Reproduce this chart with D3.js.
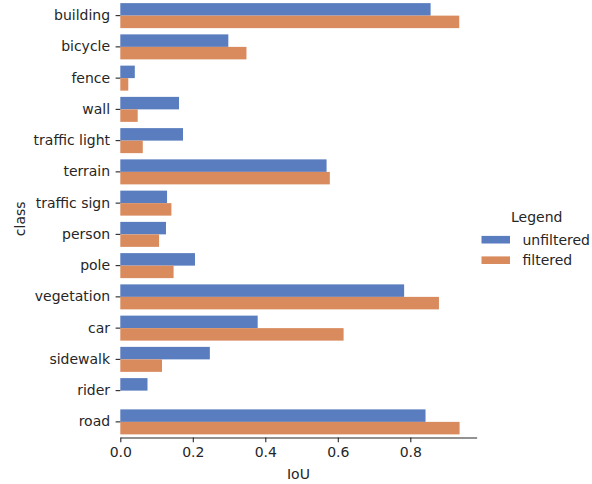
<!DOCTYPE html>
<html>
<head>
<meta charset="utf-8">
<script src="https://cdn.jsdelivr.net/npm/d3@7"></script>
<style>
  html, body { margin: 0; padding: 0; background: #fff; }
  svg { display: block; font-family: "DejaVu Sans", sans-serif; }
</style>
</head>
<body>
<svg id="chart" width="592" height="484"></svg>
<script>
// Per-class IoU, with and without filtering
const classes = ["building", "bicycle", "fence", "wall", "traffic light", "terrain",
  "traffic sign", "person", "pole", "vegetation", "car", "sidewalk", "rider", "road"];
const unfiltered = [0.856, 0.298, 0.040, 0.162, 0.173, 0.569, 0.129, 0.126, 0.206,
  0.783, 0.379, 0.247, 0.075, 0.842];
const filtered = [0.935, 0.348, 0.022, 0.048, 0.062, 0.578, 0.141, 0.107, 0.147,
  0.879, 0.616, 0.115, 0.0, 0.936];
const seriesNames = ["unfiltered", "filtered"];
const seriesColors = ["#597dbf", "#d98b5e"];
const xTicks = [0.0, 0.2, 0.4, 0.6, 0.8];

const FS = 14;
const svg = d3.select("#chart");
const plotLeft = 120.3, plotTop = 0, plotBottom = 437.5;
const xMax = 0.983;

const x = d3.scaleLinear().domain([0, xMax]).range([plotLeft, plotLeft + xMax * 362.5]);
const y = d3.scaleBand().domain(classes).range([plotTop, plotBottom]).paddingInner(0.2).paddingOuter(0.1);
const sub = d3.scaleBand().domain(seriesNames).range([0, y.bandwidth()]);

const rows = classes.map((c, i) => ({ c, vals: [unfiltered[i], filtered[i]] }));

const g = svg.append("g");
g.selectAll("g.row").data(rows).join("g")
  .attr("class", "row")
  .attr("transform", d => `translate(0,${y(d.c)})`)
  .selectAll("rect").data(d => d.vals.map((v, k) => ({ v, k })))
  .join("rect")
  .attr("x", x(0))
  .attr("y", d => sub(seriesNames[d.k]))
  .attr("width", d => x(d.v) - x(0))
  .attr("height", sub.bandwidth())
  .attr("fill", d => seriesColors[d.k]);

// x axis (bottom spine only)
const xAxis = d3.axisBottom(x).tickValues(xTicks).tickFormat(d3.format(".1f"))
  .tickSize(4.7).tickPadding(4.7).tickSizeOuter(0);
const xg = svg.append("g").attr("transform", `translate(0,${plotBottom})`).call(xAxis);
xg.select(".domain").attr("stroke", "#262626").attr("stroke-width", 1.1);
xg.selectAll(".tick line").attr("stroke", "#262626").attr("stroke-width", 1.1);
xg.selectAll(".tick text").attr("font-size", FS).attr("fill", "#262626")
  .attr("font-family", "DejaVu Sans");

// y axis without spine
const yAxis = d3.axisLeft(y).tickSize(4.7).tickPadding(5.5).tickSizeOuter(0);
const yg = svg.append("g").attr("transform", `translate(${plotLeft},0)`).call(yAxis);
yg.select(".domain").remove();
yg.selectAll(".tick line").attr("stroke", "#262626").attr("stroke-width", 1.1);
yg.selectAll(".tick text").attr("font-size", FS).attr("fill", "#262626")
  .attr("font-family", "DejaVu Sans");

// axis titles
svg.append("text").attr("x", (x(0) + x(xMax)) / 2).attr("y", 478.5)
  .attr("text-anchor", "middle").attr("font-size", FS).attr("fill", "#262626").text("IoU");
svg.append("text").attr("transform", `translate(24.5,${(plotTop + plotBottom) / 2}) rotate(-90)`)
  .attr("text-anchor", "middle").attr("font-size", FS).attr("fill", "#262626").text("class");

// legend
const lg = svg.append("g");
lg.append("text").attr("x", 536.7).attr("y", 221.5).attr("text-anchor", "middle")
  .attr("font-size", FS).attr("fill", "#262626").text("Legend");
seriesNames.forEach((n, k) => {
  const cy = 239.7 + k * 20.5;
  lg.append("rect").attr("x", 481.5).attr("y", cy - 3.8).attr("width", 28.5).attr("height", 7.6)
    .attr("fill", seriesColors[k]);
  lg.append("text").attr("x", 522.5).attr("y", cy + 5).attr("font-size", FS)
    .attr("fill", "#262626").text(n);
});
</script>
</body>
</html>
